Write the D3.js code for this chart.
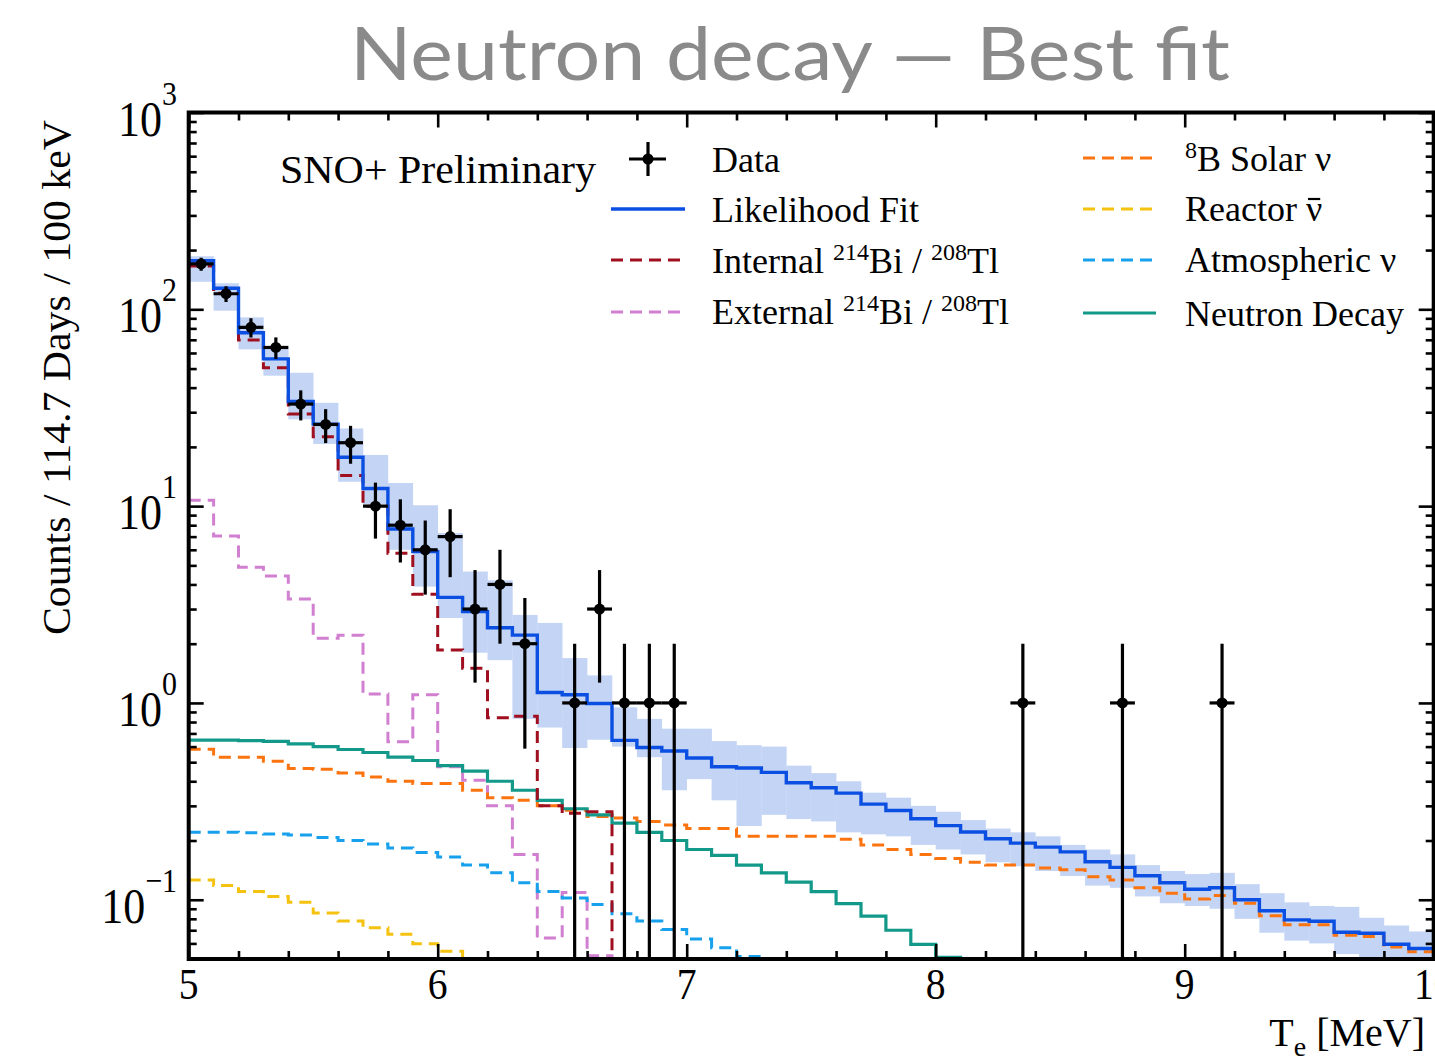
<!DOCTYPE html>
<html><head><meta charset="utf-8">
<script src="https://cdnjs.cloudflare.com/ajax/libs/d3/7.8.5/d3.min.js"></script>
<style>body{margin:0;background:#fff}svg{display:block}</style>
</head><body><svg id="c" width="1435" height="1062"></svg>
<script>
// ---------- data (bins of 0.1 MeV starting at 5.0 MeV) ----------
const xStart = 5, binWidth = 0.1;
const dataCounts = [170,120,81,64,33,26,21,10,8,6, 7,3,4,2,0,1,3,1,1,1, 0,0,0,0,0,0,0,0,0,0, 0,0,0,1,0,0,0,1,0,0, 0,1,0,0,0,0,0,0,0,0];
const fitValues = [176.6,128,76,56,34,26.1,17.7,12.3,7.65,5.87, 3.44,2.91,2.41,2.21,1.13,1.10,0.994,0.645,0.594,0.57,
  0.525,0.474,0.467,0.444,0.393,0.371,0.348,0.306,0.284,0.258, 0.238,0.221,0.204,0.194,0.185,0.175,0.156,0.146,0.1325,0.122,
  0.113,0.115,0.100,0.0879,0.079,0.0778,0.0684,0.0676,0.0594,0.0565];
const bandLow = [138,98.4,62.6,46,27.6,20.7,13.3,10.2,6.0,3.9, 2.7,1.8,1.65,0.83,0.75,0.59,0.65,0.6,0.53,0.36,
  0.41,0.32,0.237,0.27,0.257,0.25,0.22,0.215,0.21,0.19, 0.18,0.17,0.155,0.148,0.14,0.132,0.118,0.115,0.104,0.096,
  0.093,0.09,0.08,0.068,0.062,0.06,0.053,0.051,0.048,0.047];
const bandHigh = [186,135.6,91,65,47.6,33.5,24.8,18.2,13.1,10.1, 7.3,4.65,4.2,2.8,2.55,1.69,1.38,0.95,0.83,0.74,
  0.74,0.64,0.61,0.6,0.48,0.44,0.4,0.35,0.33,0.3, 0.28,0.254,0.23,0.22,0.21,0.19,0.18,0.17,0.15,0.14,
  0.135,0.137,0.12,0.108,0.097,0.093,0.092,0.081,0.074,0.069];
const internalBiTl = [166,120.6,69.8,50.5,29.4,22.5,14.3,10.0,5.76,3.57, 1.86,1.5,0.84,0.857,0.30,0.275,0.28];
const externalBiTl = [10.7,7.05,4.89,4.41,3.37,2.13,2.21,1.11,0.635,1.1, 0.474,0.405,0.30,0.17,0.064,0.109,0.052];
const solarB8 = [0.581,0.53,0.53,0.505,0.465,0.46,0.44,0.42,0.40,0.39, 0.39,0.36,0.33,0.32,0.30,0.285,0.265,0.26,0.25,0.24,
  0.23,0.23,0.21,0.21,0.21,0.21,0.203,0.19,0.18,0.17, 0.162,0.155,0.15,0.15,0.145,0.142,0.131,0.126,0.115,0.108,
  0.101,0.105,0.096,0.083,0.0746,0.0746,0.066,0.065,0.0575,0.0545];
const reactorNu = [0.126,0.118,0.11,0.104,0.097,0.0856,0.078,0.072,0.0667,0.0597,0.0547];
const atmosphericNu = [0.22,0.22,0.219,0.216,0.213,0.207,0.20,0.192,0.183,0.174, 0.165,0.15,0.137,0.122,0.11,0.102,0.0946,0.085,0.078,0.0707,
  0.0631,0.057,0.0515];
const neutronDecay = [0.648,0.648,0.644,0.638,0.62,0.60,0.58,0.56,0.53,0.51, 0.48,0.45,0.40,0.36,0.32,0.29,0.27,0.245,0.22,0.20,
  0.18,0.168,0.15,0.137,0.123,0.11,0.0955,0.0826,0.07,0.0594, 0.051];
const xTickValues = [5,6,7,8,9,10];
const xTickLabels = ["5","6","7","8","9","10"];
const xMinorValues = [5.2,5.4,5.6,5.8,6.2,6.4,6.6,6.8,7.2,7.4,7.6,7.8,8.2,8.4,8.6,8.8,9.2,9.4,9.6,9.8];
const yTickExponents = [-1,0,1,2,3];

// ---------- layout ----------
const X0 = 188.7, X1 = 1433.7, Y0 = 112.5, Y1 = 959;
const serif = "'Liberation Serif','Times New Roman',serif";
const svg = d3.select("#c");
const x = d3.scaleLinear().domain([5,10]).range([X0,X1]);
const y = d3.scaleLog().domain([0.05,1000]).range([Y1,Y0]);

const colors = {fit:"#0b4fe2", band:"#c3d4f5", internal:"#a00f1f", external:"#d17fd0",
  solar:"#fb7410", reactor:"#f4c20f", atm:"#17a0ec", neutron:"#12998a"};

svg.append("defs").append("clipPath").attr("id","clip").append("rect")
  .attr("x",X0).attr("y",Y0).attr("width",X1-X0).attr("height",Y1-Y0);

// title
svg.append("text").attr("x",350).attr("y",80).attr("textLength",880).attr("lengthAdjust","spacingAndGlyphs")
  .attr("font-family","Lato,'Open Sans',sans-serif").attr("font-size",74).attr("fill","#8a8a8a")
  .text("Neutron decay \u2014 Best fit");

const plot = svg.append("g").attr("clip-path","url(#clip)");

// uncertainty band
plot.selectAll("rect.band").data(fitValues.map((v,i)=>({i,lo:bandLow[i],hi:bandHigh[i]}))).join("rect")
  .attr("class","band")
  .attr("x",d=>x(xStart+d.i*binWidth)).attr("width",d=>x(xStart+(d.i+1)*binWidth)-x(xStart+d.i*binWidth)+0.3)
  .attr("y",d=>y(d.hi)).attr("height",d=>y(d.lo)-y(d.hi)).attr("fill",colors.band);

const stepLine = d3.line().curve(d3.curveStepAfter);
function stepPts(vals, drop){
  const pts = vals.map((v,i)=>[x(xStart+i*binWidth), y(v)]);
  const xe = x(xStart+vals.length*binWidth);
  pts.push([xe, y(vals[vals.length-1])]);
  if (drop) pts.push([xe, Y1+20]);
  return pts;
}
function drawStep(vals, color, dashed, drop, w){
  plot.append("path").attr("d",stepLine(stepPts(vals,drop))).attr("fill","none")
    .attr("stroke",color).attr("stroke-width",w||3)
    .attr("stroke-dasharray",dashed?"12,7":null);
}
drawStep(externalBiTl, colors.external, true, true);
drawStep(reactorNu, colors.reactor, true, true);
drawStep(atmosphericNu, colors.atm, true, true);
drawStep(solarB8, colors.solar, true, false);
drawStep(neutronDecay, colors.neutron, false, true, 3.2);
drawStep(internalBiTl, colors.internal, true, true);
drawStep(fitValues, colors.fit, false, false, 3.4);

// data points
const pts = dataCounts.map((n,i)=>({n, c:xStart+(i+0.5)*binWidth})).filter(d=>d.n>0);
const dg = plot.append("g");
pts.forEach(d=>{
  const e = Math.sqrt(d.n);
  const lo = d.n - e > 0 ? y(d.n - e) : Y1+10;
  dg.append("line").attr("x1",x(d.c)).attr("x2",x(d.c)).attr("y1",y(d.n+e)).attr("y2",lo)
    .attr("stroke","#000").attr("stroke-width",3.2);
  dg.append("line").attr("x1",x(d.c-binWidth/2)).attr("x2",x(d.c+binWidth/2)).attr("y1",y(d.n)).attr("y2",y(d.n))
    .attr("stroke","#000").attr("stroke-width",3.2);
  dg.append("circle").attr("cx",x(d.c)).attr("cy",y(d.n)).attr("r",5.5).attr("fill","#000");
});

// axes (ticks inward)
function styleAxis(g){ g.select(".domain").remove(); g.selectAll("line").attr("stroke","#000").attr("stroke-width",2.6); g.selectAll("text").remove(); }
svg.append("g").attr("transform",`translate(0,${Y1})`).call(d3.axisBottom(x).tickValues(xTickValues).tickSize(-15)).call(styleAxis);
svg.append("g").attr("transform",`translate(0,${Y1})`).call(d3.axisBottom(x).tickValues(xMinorValues).tickSize(-8)).call(styleAxis);
svg.append("g").attr("transform",`translate(0,${Y0})`).call(d3.axisTop(x).tickValues(xTickValues).tickSize(-15)).call(styleAxis);
svg.append("g").attr("transform",`translate(0,${Y0})`).call(d3.axisTop(x).tickValues(xMinorValues).tickSize(-8)).call(styleAxis);
const yMajor = yTickExponents.map(e=>Math.pow(10,e));
const yMinor = [];
[-2,-1,0,1,2].forEach(e=>{ for(let k=2;k<=9;k++){ const v=k*Math.pow(10,e); if(v>0.05 && v<1000) yMinor.push(v);} });
svg.append("g").attr("transform",`translate(${X0},0)`).call(d3.axisLeft(y).tickValues(yMajor).tickSize(-15)).call(styleAxis);
svg.append("g").attr("transform",`translate(${X0},0)`).call(d3.axisLeft(y).tickValues(yMinor).tickSize(-8)).call(styleAxis);
svg.append("g").attr("transform",`translate(${X1},0)`).call(d3.axisRight(y).tickValues(yMajor).tickSize(-15)).call(styleAxis);
svg.append("g").attr("transform",`translate(${X1},0)`).call(d3.axisRight(y).tickValues(yMinor).tickSize(-8)).call(styleAxis);

// frame
svg.append("rect").attr("x",X0).attr("y",Y0).attr("width",X1-X0).attr("height",Y1-Y0)
  .attr("fill","none").attr("stroke","#000").attr("stroke-width",4);

// x tick labels (last one is cut at the right edge, as in the original)
xTickValues.forEach((v,i)=>{
  svg.append("text").attr("transform",`translate(${x(v)},999) scale(0.88,1)`).attr("text-anchor","middle")
    .attr("font-family",serif).attr("font-size",45).attr("fill","#000").text(xTickLabels[i]);
});
// y tick labels
yTickExponents.forEach(e=>{
  const t = svg.append("text").attr("transform",`translate(177,${y(Math.pow(10,e))+23}) scale(0.88,1)`)
    .attr("text-anchor","end").attr("font-family",serif).attr("font-size",50).attr("fill","#000");
  t.append("tspan").text("10");
  t.append("tspan").attr("dy",-31).attr("font-size",34).text(e<0?"\u2212"+(-e):String(e));
});

// axis titles
svg.append("text").attr("transform","translate(70,377.5) rotate(-90)").attr("text-anchor","middle")
  .attr("font-family",serif).attr("font-size",40).attr("textLength",515).attr("lengthAdjust","spacingAndGlyphs")
  .text("Counts / 114.7 Days / 100 keV");
const xt = svg.append("text").attr("x",1425).attr("y",1046).attr("text-anchor","end").attr("font-family",serif).attr("font-size",40);
xt.append("tspan").text("T");
xt.append("tspan").attr("dy",10).attr("font-size",28).text("e");
xt.append("tspan").attr("dy",-10).text(" [MeV]");

// annotation
svg.append("text").attr("x",280).attr("y",183).attr("font-family",serif).attr("font-size",41)
  .attr("textLength",316).attr("lengthAdjust","spacingAndGlyphs").text("SNO+ Preliminary");

// legend
const lg = svg.append("g").attr("font-family",serif).attr("font-size",36).attr("fill","#000");
lg.append("line").attr("x1",629).attr("x2",666).attr("y1",159).attr("y2",159).attr("stroke","#000").attr("stroke-width",3.2);
lg.append("line").attr("x1",648).attr("x2",648).attr("y1",142).attr("y2",176).attr("stroke","#000").attr("stroke-width",3.2);
lg.append("circle").attr("cx",648).attr("cy",159).attr("r",5.5).attr("fill","#000");
function legLine(x1,x2,yy,color,dashed,w){
  lg.append("line").attr("x1",x1).attr("x2",x2).attr("y1",yy).attr("y2",yy).attr("stroke",color)
    .attr("stroke-width",w||3).attr("stroke-dasharray",dashed?"12,7":null);
}
legLine(611,685,209,colors.fit,false,3.4);
legLine(611,685,260,colors.internal,true);
legLine(611,685,312,colors.external,true);
legLine(1083,1156,158,colors.solar,true);
legLine(1083,1156,209,colors.reactor,true);
legLine(1083,1156,260,colors.atm,true);
legLine(1083,1156,313,colors.neutron,false,3.2);

function legText(xx,yy,parts){
  const t = lg.append("text").attr("x",xx).attr("y",yy);
  parts.forEach(p=>{
    const s = t.append("tspan").text(p.t);
    if(p.sup){ s.attr("font-size",24).attr("dy",-13); }
    if(p.after){ s.attr("dy",13); }
  });
  return t;
}
legText(712,172,[{t:"Data"}]);
legText(712,222,[{t:"Likelihood Fit"}]);
legText(712,273,[{t:"Internal "},{t:"214",sup:true},{t:"Bi / ",after:true},{t:"208",sup:true},{t:"Tl",after:true}]);
legText(712,324,[{t:"External "},{t:"214",sup:true},{t:"Bi / ",after:true},{t:"208",sup:true},{t:"Tl",after:true}]);
legText(1185,171,[{t:"8",sup:true},{t:"B Solar \u03BD",after:true}]);
const reac = legText(1185,221,[{t:"Reactor \u03BD"}]);
// bar over the antineutrino symbol
const rn = reac.node();
const ext = rn.getExtentOfChar(rn.getNumberOfChars()-1);
lg.append("line").attr("x1",ext.x+2).attr("x2",ext.x+ext.width-2).attr("y1",199).attr("y2",199)
  .attr("stroke","#000").attr("stroke-width",2.2);
legText(1185,272,[{t:"Atmospheric \u03BD"}]);
legText(1185,326,[{t:"Neutron Decay"}]);
</script></body></html>
